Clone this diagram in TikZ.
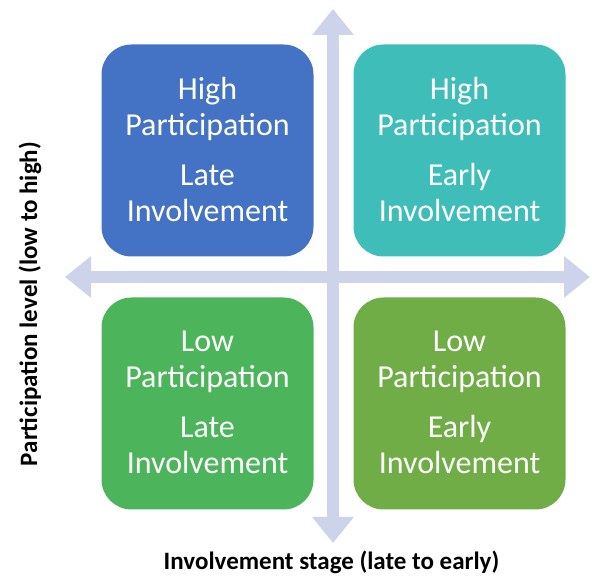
\documentclass[tikz,border=0pt]{standalone}
\usepackage{fontspec}
\setmainfont{Carlito}
\usetikzlibrary{arrows.meta}
\definecolor{qblue}{HTML}{4472C4}
\definecolor{qteal}{HTML}{3FBDB8}
\definecolor{qgreen}{HTML}{4CB55C}
\definecolor{qolive}{HTML}{70AD47}
\definecolor{axiscol}{HTML}{CDD3EA}
\tikzset{
  quad/.style={fill=#1, draw=none, rounded corners=30pt, minimum width=212pt, minimum height=212pt,
    inner sep=0pt, align=center, text=white, font=\fontsize{32}{36}\selectfont},
  axisarrow/.style={draw=axiscol, line width=12pt,
    arrows={Triangle[length=26pt,width=40pt]-Triangle[length=26pt,width=40pt]}},
  axislabel/.style={font=\bfseries\fontsize{25}{28}\selectfont, text=black, inner sep=0pt}
}
\begin{document}
\begin{tikzpicture}[x=1pt,y=1pt]
\useasboundingbox (0,0) rectangle (592,578);
\coordinate (vbot) at (333,35);
\coordinate (vtop) at (333,569);
\coordinate (hleft) at (65,301);
\coordinate (hright) at (590,301);
\draw[axisarrow] (vbot) -- (vtop);
\draw[axisarrow] (hleft) -- (hright);
\node[quad=qblue] (tl) at (207.5,427.5) {High\\Participation\\[14pt]Late\\Involvement\rule[-3pt]{0pt}{0pt}};
\node[quad=qteal] (tr) at (459.5,427.5) {High\\Participation\\[14pt]Early\\Involvement\rule[-3pt]{0pt}{0pt}};
\node[quad=qgreen] (bl) at (207.5,174.5) {Low\\Participation\\[14pt]Late\\Involvement\rule[-3pt]{0pt}{0pt}};
\node[quad=qolive] (br) at (459.5,174.5) {Low\\Participation\\[14pt]Early\\Involvement\rule[-3pt]{0pt}{0pt}};
\node[axislabel, anchor=base] (xlab) at (331.5,8) {Involvement stage (late to early)};
\node[axislabel, anchor=base, rotate=90] (ylab) at (37,274) {Participation level (low to high)};
\end{tikzpicture}
\end{document}
